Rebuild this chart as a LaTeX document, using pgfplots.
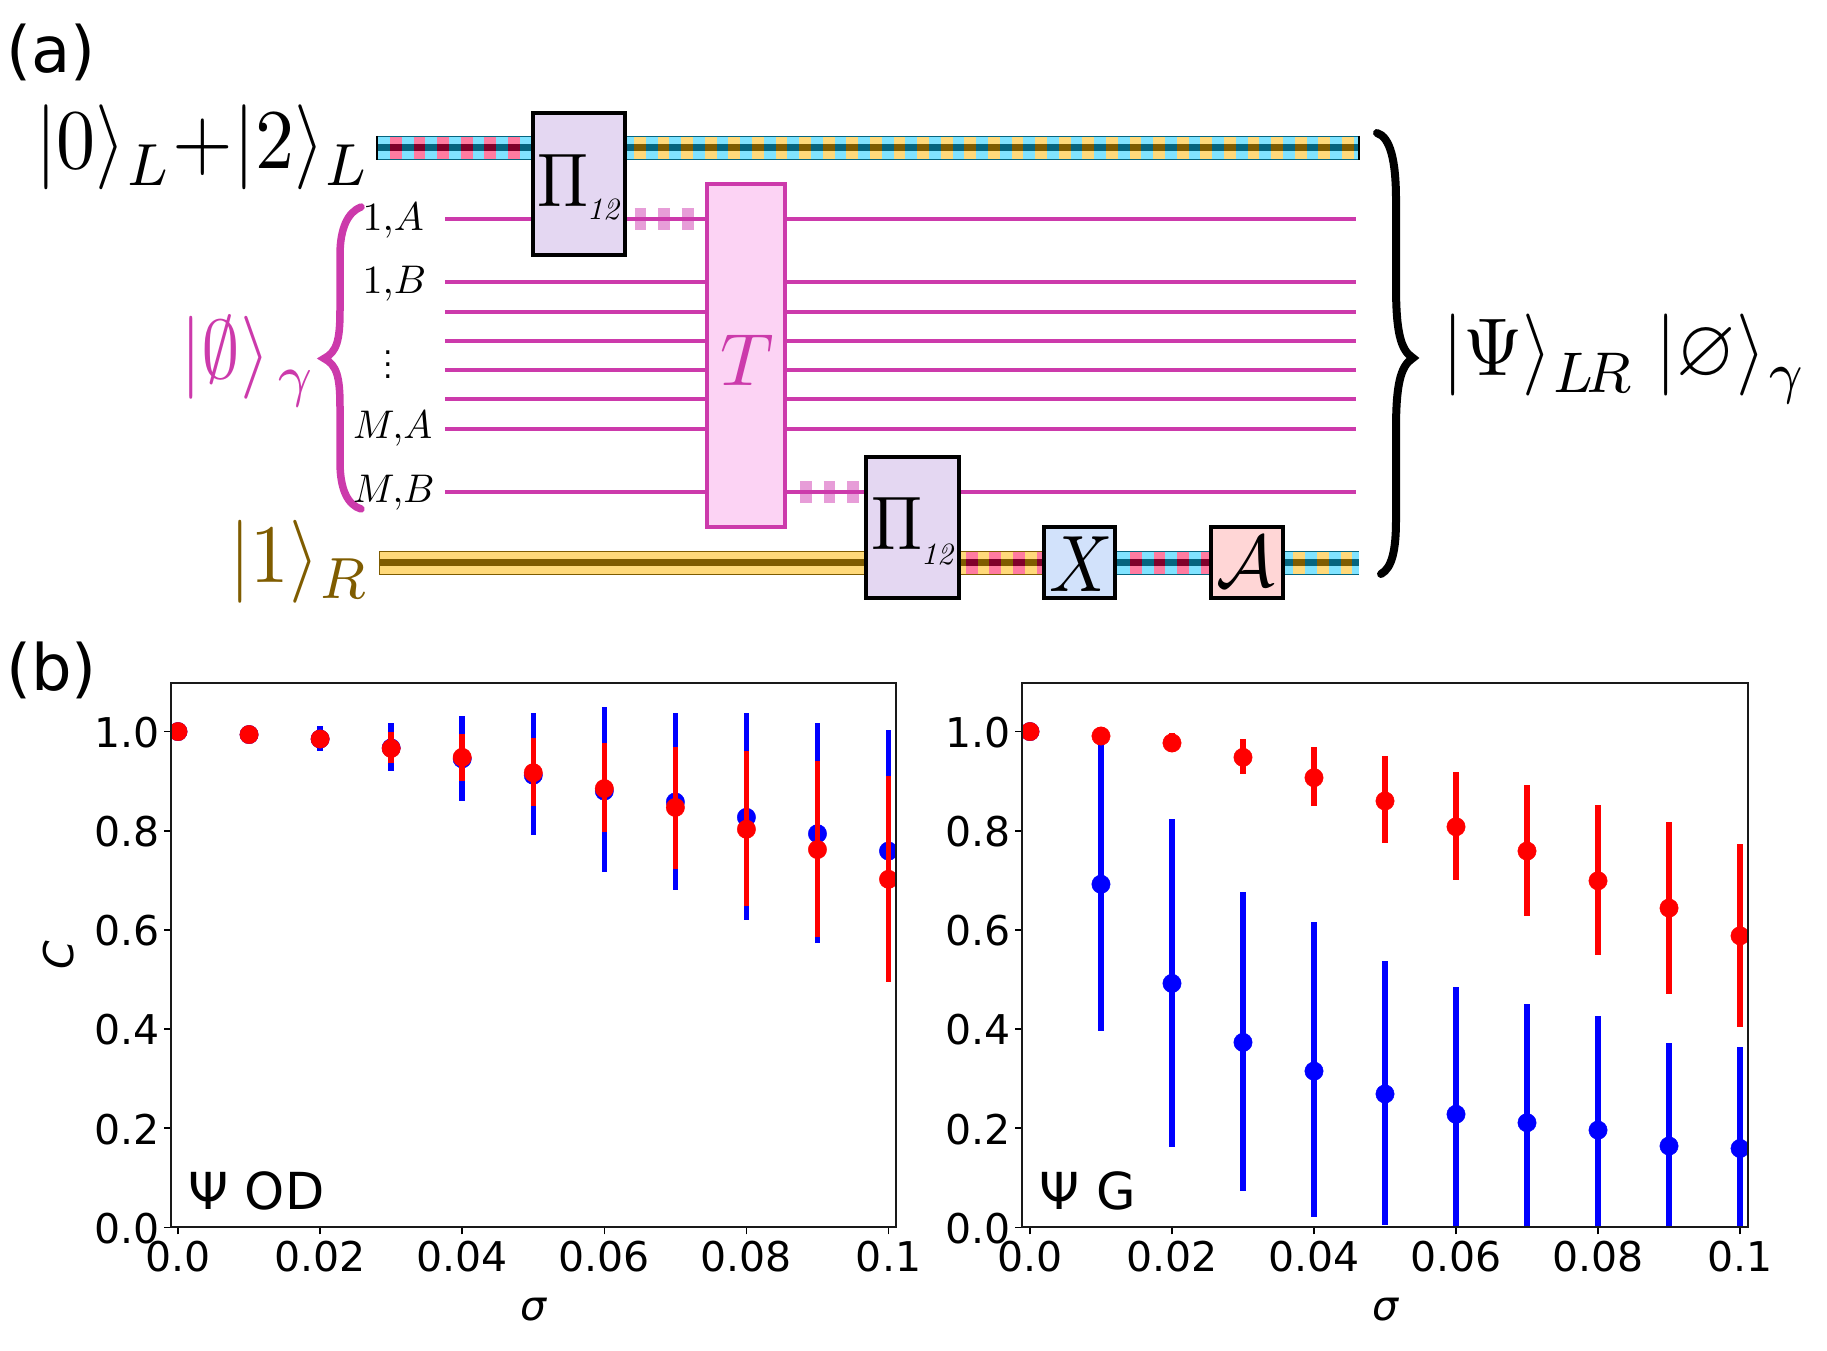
\documentclass[border=0pt]{standalone}
\usepackage{graphicx}
\usepackage{amsmath,amssymb}
\usepackage[no-math]{fontspec}
\setmainfont{DejaVu Sans}
\usepackage{pgfplots}
\usepackage{pgfplotstable}
\pgfplotsset{compat=1.18}
\definecolor{mag}{HTML}{CC3AAB}
\definecolor{palemag}{HTML}{E79DD8}
\definecolor{tfill}{HTML}{FCD3F4}
\definecolor{pifill}{HTML}{E4D7F2}
\definecolor{xfill}{HTML}{D2E2FB}
\definecolor{afill}{HTML}{FFD6D6}
\definecolor{cyL}{HTML}{80E3FF}
\definecolor{cyD}{HTML}{05657F}
\definecolor{piL}{HTML}{FF7BA0}
\definecolor{piD}{HTML}{80002A}
\definecolor{yeL}{HTML}{FFD97A}
\definecolor{yeD}{HTML}{7F5C00}
\newcommand{\ts}{\fontsize{41}{41}\selectfont}
\newcommand{\lsub}[1]{_{\lower0.5pt\hbox{$\scriptstyle #1$}}}
% \cbar: x1 x2 y lightA darkA lightB darkB dashstart
\newcommand{\cbar}[8]{%
  \addplot[#5,line width=24pt] coordinates {(#1,#3)(#2,#3)};
  \addplot[#4,line width=21.5pt] coordinates {(#1,#3)(#2,#3)};
  \addplot[#6,line width=21.5pt,dash pattern=on 11.8pt off 11.8pt] coordinates {(#8,#3)(#2,#3)};
  \addplot[#5,line width=7pt] coordinates {(#1,#3)(#2,#3)};
  \addplot[#7,line width=7pt,dash pattern=on 11.8pt off 11.8pt] coordinates {(#8,#3)(#2,#3)};
}
\newcommand{\wire}[3]{\addplot[mag,line width=4pt] coordinates {(#1,#3)(#2,#3)};}
\newcommand{\gatebox}[6]{\addplot[draw=#5,fill=#6,line width=4pt] coordinates {(#1,#3)(#2,#3)(#2,#4)(#1,#4)} --cycle;}
\pgfplotstableread{
x y hi lo
0 1.0 1.0 1.0
0.01 0.994 0.994 0.994
0.02 0.985 1.012 0.961
0.03 0.967 1.018 0.921
0.04 0.945 1.032 0.860
0.05 0.912 1.038 0.791
0.06 0.880 1.050 0.716
0.07 0.858 1.038 0.681
0.08 0.827 1.038 0.620
0.09 0.794 1.018 0.573
0.10 0.759 1.003 0.515
}\odblue
\pgfplotstableread{
x y hi lo
0 1.0 1.0 1.0
0.01 0.994 0.994 0.994
0.02 0.985 0.995 0.975
0.03 0.966 1.000 0.936
0.04 0.948 0.996 0.900
0.05 0.917 0.988 0.849
0.06 0.885 0.976 0.798
0.07 0.847 0.969 0.723
0.08 0.803 0.960 0.649
0.09 0.762 0.940 0.585
0.10 0.702 0.911 0.494
}\odred
\pgfplotstableread{
x y hi lo
0 1.0 1.0 1.0
0.01 0.692 0.988 0.396
0.02 0.492 0.824 0.161
0.03 0.373 0.676 0.074
0.04 0.315 0.615 0.021
0.05 0.269 0.537 0.004
0.06 0.228 0.484 -0.03
0.07 0.211 0.450 -0.03
0.08 0.196 0.427 -0.035
0.09 0.164 0.372 -0.04
0.10 0.159 0.363 -0.045
}\gblue
\pgfplotstableread{
x y hi lo
0 1.0 1.0 1.0
0.01 0.991 1.009 0.980
0.02 0.977 0.998 0.958
0.03 0.948 0.986 0.915
0.04 0.907 0.968 0.849
0.05 0.860 0.951 0.776
0.06 0.808 0.919 0.700
0.07 0.759 0.893 0.628
0.08 0.699 0.852 0.549
0.09 0.644 0.818 0.471
0.10 0.588 0.774 0.404
}\gred
\pgfplotsset{
  cplot/.style={
    scale only axis,width=724.7pt,height=544.3pt,
    ymin=0,ymax=1.098,
    xtick={0,0.02,0.04,0.06,0.08,0.1},
    xticklabels={0.0,0.02,0.04,0.06,0.08,0.1},
    ytick={0,0.2,0.4,0.6,0.8,1.0},
    yticklabels={0.0,0.2,0.4,0.6,0.8,1.0},
    tick align=outside,xtick pos=bottom,ytick pos=left,
    major tick length=7pt,
    tick style={black,line width=1.6pt},
    axis line style={line width=1.8pt,black!90},
    tick label style={font=\ts},
    xticklabel style={yshift=-3pt},
    yticklabel style={xshift=-1pt,yshift=-1pt},
    label style={font=\ts},
    x label style={at={(axis description cs:0.5,-0.152)},anchor=center},
    y label style={at={(axis description cs:-0.1545,0.5)},anchor=center},
    axis on top,clip marker paths=true,
  },
  eb/.style={only marks,color=#1,mark=*,mark size=9.2pt,mark options={draw=none,fill=#1},
    error bars/.cd,y dir=both,y explicit,error mark=none,
    error bar style={line width=5.5pt,color=#1}},
}
\newcommand{\cplotdata}[3]{%
  \addplot[eb=#2] table[x=x,y=y,y error plus expr=\thisrow{hi}-\thisrow{y},y error minus expr=\thisrow{y}-\thisrow{lo}]{#1};
}
\begin{document}
\begin{tikzpicture}[x=1pt,y=1pt]
\useasboundingbox (0,0) rectangle (1827pt,1350pt);
\begin{axis}[at={(0,0)},anchor=south west,scale only axis,width=1827pt,height=1350pt,
  xmin=0,xmax=1827,ymin=0,ymax=1350,y dir=reverse,hide axis,clip=false]
% checkered rails
\cbar{377}{535}{148}{cyL}{cyD}{piL}{piD}{390}
\cbar{625}{1359}{148}{cyL}{cyD}{yeL}{yeD}{634}
\addplot[black,line width=2pt] coordinates {(377,136)(377,160)};
\addplot[black,line width=2pt] coordinates {(1358.5,136)(1358.5,160)};
\addplot[yeD,line width=24pt] coordinates {(379,562.8)(866,562.8)};
\addplot[yeL,line width=21.5pt] coordinates {(380,562.8)(866,562.8)};
\addplot[yeD,line width=7pt] coordinates {(380,562.8)(866,562.8)};
\cbar{958}{1045}{562.8}{yeL}{yeD}{piL}{piD}{965.7}
\cbar{1115}{1211}{562.8}{cyL}{cyD}{piL}{piD}{1130}
\cbar{1282}{1359.3}{562.8}{cyL}{cyD}{yeL}{yeD}{1293.3}
% wires
\wire{445}{532}{219.2}
\wire{625}{707}{219.2}
\wire{784}{1356}{219.2}
\wire{445}{707}{282.4}\wire{784}{1356}{282.4}
\wire{445}{707}{311.8}\wire{784}{1356}{311.8}
\wire{445}{707}{341.2}\wire{784}{1356}{341.2}
\wire{445}{707}{370.2}\wire{784}{1356}{370.2}
\wire{445}{707}{399.2}\wire{784}{1356}{399.2}
\wire{445}{707}{428.6}\wire{784}{1356}{428.6}
\wire{445}{707}{491.8}
\wire{784}{866}{491.8}
\wire{959}{1356}{491.8}
\addplot[palemag,line width=22pt,dash pattern=on 11.8pt off 11.8pt] coordinates {(634.5,219.2)(695,219.2)};
\addplot[palemag,line width=22pt,dash pattern=on 11.8pt off 11.8pt] coordinates {(800,491.8)(860,491.8)};
\wire{625}{707}{219.2}
\wire{784}{866}{491.8}
% boxes
\gatebox{532.7}{625}{113}{254.7}{black}{pifill}
\gatebox{865.7}{959}{457}{598}{black}{pifill}
\gatebox{707}{784.5}{184.5}{527}{mag}{tfill}
\gatebox{1044.3}{1115.3}{527.3}{598}{black}{xfill}
\gatebox{1211.3}{1282.7}{527.3}{598}{black}{afill}
% gate text
\node[anchor=base west,inner sep=0] at (537.5,207) {\scalebox{6.8}[7.6]{$\Pi$}};
\node[anchor=base west,inner sep=0] at (587,220) {\scalebox{3.1}{$\mathit{12}$}};
\node[anchor=base west,inner sep=0] at (871.5,549.5) {\scalebox{6.8}[7.6]{$\Pi$}};
\node[anchor=base west,inner sep=0] at (921,564.5) {\scalebox{3.1}{$\mathit{12}$}};
\node[inner sep=0,text=mag] at (747,360) {\scalebox{7.4}{$T$}};
\node[inner sep=0] at (1081,564) {\scalebox{7}[8]{$X$}};
\node[inner sep=0] at (1246,562) {\scalebox{7.3}{$\mathcal{A}$}};
% braces
\draw[mag,line width=7.5pt,line cap=round] (361,207) .. controls (348,212) and (340,228) .. (340,255) -- (340,310)
  .. controls (340,340) and (337,352) .. (324,358.5) .. controls (337,365) and (340,377) .. (340,407) -- (340,462)
  .. controls (340,490) and (348,505) .. (361,509);
\draw[black,line width=8pt,line cap=round] (1377,133) .. controls (1390,137) and (1396,160) .. (1396,200) -- (1396,285)
  .. controls (1396,330) and (1400,350) .. (1413,358) .. controls (1400,366) and (1396,386) .. (1396,430) -- (1396,520)
  .. controls (1396,550) and (1392,568) .. (1381,574);
% kets
\node[anchor=base west,inner sep=0] at (35,169) {\scalebox{7.8}[8.5]{$|0\rangle\lsub{L}{+}|2\rangle\lsub{L}$}};
\node[anchor=base west,inner sep=0,text=mag] at (180,379) {\scalebox{7.72}[8.3]{\color{mag}$|\emptyset\rangle_{\lower0.5pt\hbox{\kern1pt$\scriptstyle\gamma$}}$}};
\node[anchor=base west,inner sep=0] at (229,582) {\scalebox{7.72}[8.3]{\color{yeD}$|1\rangle\lsub{R}$}};
\node[anchor=base west,inner sep=0] at (1442,376) {\scalebox{7.63}[8.2]{$|\Psi\rangle_{\lower0.5pt\hbox{$\scriptstyle L\kern-1.2pt R$}}\,\kern1pt|\varnothing\rangle_{\lower0.5pt\hbox{\kern0.4pt$\scriptstyle\gamma$}}$}};
% rail labels
\node[anchor=base west,inner sep=0] at (362.5,230.6) {\scalebox{4}{$1,\!A$}};
\node[anchor=base west,inner sep=0] at (362.5,294) {\scalebox{4}{$1,\!B$}};
\node[inner sep=0] at (388.6,356) {\scalebox{3}{$\vdots$}};
\node[anchor=base west,inner sep=0] at (353,438.8) {\scalebox{3.85}[4]{$M,\!A$}};
\node[anchor=base west,inner sep=0] at (353,502) {\scalebox{3.85}[4]{$M,\!B$}};
% panel letters
\node[anchor=base west,inner sep=0] at (6,73) {\fontsize{64}{64}\selectfont (a)};
\node[anchor=base west,inner sep=0] at (6,690) {\fontsize{64}{64}\selectfont (b)};
\end{axis}
\begin{axis}[cplot,at={(171pt,122.7pt)},anchor=south west,
  xmin=-0.000985,xmax=0.10101,
  xlabel={\itshape σ},ylabel={\itshape C}]
\cplotdata{\odblue}{blue}{}
\cplotdata{\odred}{red}{}
\node[anchor=base west,inner sep=0] at (rel axis cs:0.024,0.032) {\fontsize{51}{51}\selectfont Ψ OD};
\end{axis}
\begin{axis}[cplot,at={(1022.3pt,122.7pt)},anchor=south west,width=725.4pt,
  xmin=-0.00108,xmax=0.10108,
  xlabel={\itshape σ}]
\cplotdata{\gblue}{blue}{}
\cplotdata{\gred}{red}{}
\node[anchor=base west,inner sep=0] at (rel axis cs:0.024,0.032) {\fontsize{51}{51}\selectfont Ψ G};
\end{axis}
\end{tikzpicture}
\end{document}
